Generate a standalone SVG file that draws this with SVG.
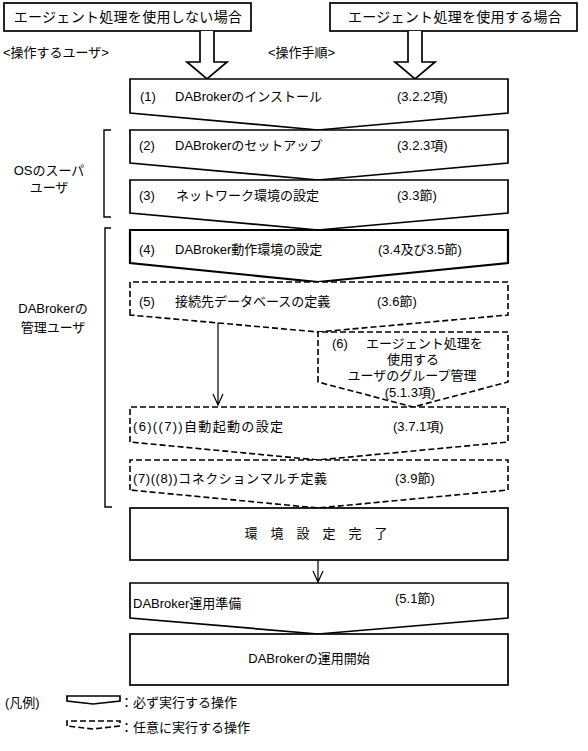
<svg xmlns="http://www.w3.org/2000/svg" width="588" height="751" viewBox="0 0 588 751">
<style>
text{font-family:"Liberation Sans","Noto Sans CJK JP",sans-serif;font-size:13px;fill:#000}
.big{font-size:14px;letter-spacing:0.3px}
.mid{text-anchor:middle}
.box{fill:#fff;stroke:#000;stroke-width:1.7}
.thick{stroke-width:2.2}
.dash{fill:#fff;stroke:#000;stroke-width:1.6;stroke-dasharray:6 3}
.ln{fill:none;stroke:#000;stroke-width:1.2}
.br{fill:none;stroke:#000;stroke-width:1.4}
</style>
<rect width="588" height="751" fill="#fff"/>
<g id="start-no-agent">
<rect class="box" x="4" y="3" width="247" height="28"/>
<text class="big mid" x="128" y="22">エージェント処理を使用しない場合</text>
</g>
<g id="start-agent">
<rect class="box" x="330" y="3" width="247" height="28"/>
<text class="big mid" x="455" y="22">エージェント処理を使用する場合</text>
</g>
<g id="headers">
<text x="3" y="57">&lt;操作するユーザ&gt;</text>
<text x="268" y="57">&lt;操作手順&gt;</text>
</g>
<g id="role-os">
<path class="br" d="M111,130 H104 V217 H111"/>
<text class="mid" x="49" y="175">OSのスーパ</text>
<text class="mid" x="49" y="192">ユーザ</text>
</g>
<g id="role-dab">
<path class="br" d="M111,228 H105 V507 H112"/>
<text class="mid" x="53" y="313">DABrokerの</text>
<text class="mid" x="53" y="332">管理ユーザ</text>
</g>
<g id="connectors">
<path class="box" d="M200,31 V62 H187 L207,79 L227,62 H214 V31"/>
<path class="box" d="M408,31 V62 H395 L415,79 L435,62 H422 V31"/>
</g>
<g id="step1">
<path class="box" d="M130,113 V79 H508 V113 L318,130 Z"/>
<text x="140" y="101">(1)</text>
<text x="175" y="101">DABrokerのインストール</text>
<text x="397" y="101">(3.2.2項)</text>
</g>
<g id="step2">
<path class="box" d="M130,163 V130 H508 V163 L318,180 Z"/>
<text x="139" y="150">(2)</text>
<text x="175" y="150">DABrokerのセットアップ</text>
<text x="397" y="150">(3.2.3項)</text>
</g>
<g id="step3">
<path class="box" d="M130,213 V180 H508 V213 L318,230 Z"/>
<text x="139" y="200">(3)</text>
<text x="176" y="200">ネットワーク環境の設定</text>
<text x="397" y="200">(3.3節)</text>
</g>
<g id="step4">
<path class="box thick" d="M130,263 V230 H508 V263 L318,282 Z"/>
<text x="139" y="254">(4)</text>
<text x="175" y="254">DABroker動作環境の設定</text>
<text x="378" y="254">(3.4及び3.5節)</text>
</g>
<g id="step5">
<path class="dash" d="M130,315 V282 H508 V315 L318,332 Z"/>
<text x="139" y="306">(5)</text>
<text x="175" y="306">接続先データベースの定義</text>
<text x="377" y="306">(3.6節)</text>
</g>
<g id="step6">
<path class="dash" d="M318,382 V332 H508 V382 L413,407 Z"/>
<text x="332" y="348">(6)</text>
<text x="366" y="348">エージェント処理を</text>
<text class="mid" x="413" y="364">使用する</text>
<text class="mid" x="412" y="380">ユーザのグループ管理</text>
<text class="mid" x="410" y="397">(5.1.3項)</text>
</g>
<g id="step7">
<path class="dash" d="M130,442 V407 H508 V442 L318,460 Z"/>
<text x="133" y="431" textLength="150">(6)((7))自動起動の設定</text>
<text x="393" y="431">(3.7.1項)</text>
</g>
<g id="step8">
<path class="dash" d="M130,490 V460 H508 V490 L318,508 Z"/>
<text x="133" y="483" textLength="194">(7)((8))コネクションマルチ定義</text>
<text x="395" y="483">(3.9節)</text>
</g>
<g id="done">
<rect class="box" x="130" y="508" width="378" height="52"/>
<text class="mid" x="316" y="538">環　境　設　定　完　了</text>
</g>
<g id="prep">
<path class="box" d="M130,618 V583 H508 V618 L318,634 Z"/>
<text x="133" y="608">DABroker運用準備</text>
<text x="395" y="603">(5.1節)</text>
</g>
<g id="start-op">
<rect class="box" x="130" y="634" width="378" height="51"/>
<text class="mid" x="309" y="663">DABrokerの運用開始</text>
</g>
<g id="connectors-lines">
<path class="ln" d="M218,323 V405 M213,394 L218,405 L223,394"/>
<path class="ln" d="M318,560 V582 M313,571 L318,582 L323,571"/>
</g>
<g id="legend">
<text x="5" y="707">(凡例)</text>
<path class="box" d="M67,701 V696 H120 V701 L93,704 Z"/>
<text x="120" y="707">：必ず実行する操作</text>
<path class="dash" stroke-dasharray="4 2" d="M67,726 V721 H120 V726 L93,729 Z"/>
<text x="120" y="732">：任意に実行する操作</text>
</g>
</svg>
